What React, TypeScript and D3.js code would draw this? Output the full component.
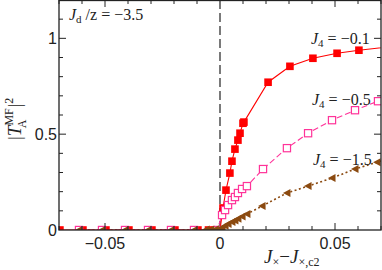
import React, { useEffect, useRef } from "react";
import * as d3 from "d3";

// |T_A^MF|^2 vs J_x - J_x,c2, for three J_4 values
const redX = [-0.0696, -0.0596, -0.0496, -0.0396, -0.0296, -0.0196, -0.0096, -0.005, -0.002, 0, 0.0013, 0.0026, 0.0043, 0.0052, 0.0065, 0.0078, 0.0087, 0.01, 0.0104, 0.0209, 0.0304, 0.0404, 0.0509, 0.0604, 0.0804];
const redY = [0, 0, 0, 0, 0, 0, 0, 0, 0, 0, 0.115, 0.208, 0.297, 0.359, 0.422, 0.469, 0.505, 0.557, 0.563, 0.771, 0.854, 0.896, 0.922, 0.938, 0.965];

const pinkX = [-0.0613, -0.0513, -0.0413, -0.0313, -0.0213, -0.0113, -0.0013, 0.0009, 0.0022, 0.0035, 0.0052, 0.0065, 0.0078, 0.0096, 0.0117, 0.0187, 0.0291, 0.0383, 0.0487, 0.0587, 0.0687, 0.0787];
const pinkY = [0, 0, 0, 0, 0, 0, 0, 0.078, 0.104, 0.13, 0.156, 0.172, 0.193, 0.214, 0.229, 0.318, 0.427, 0.505, 0.573, 0.625, 0.672, 0.71];

const brownX = [-0.0613, -0.0513, -0.0413, -0.0313, -0.0213, -0.0113, -0.006, -0.004, -0.002, 0, 0.0009, 0.0022, 0.0035, 0.0052, 0.0065, 0.0078, 0.0096, 0.0117, 0.0183, 0.0291, 0.0383, 0.0487, 0.0587, 0.0683, 0.0783];
const brownY = [0, 0, 0, 0, 0, 0, 0.002, 0.003, 0.004, 0.006, 0.012, 0.022, 0.031, 0.042, 0.05, 0.059, 0.07, 0.083, 0.125, 0.193, 0.229, 0.271, 0.318, 0.354, 0.39];

const xTicks = [-0.05, 0, 0.05];
const xTickLabels = ["\u22120.05", "0", "0.05"];
const yTicks = [0, 0.5, 1];
const yTickLabels = ["0", "0.5", "1"];

const W = 382;
const H = 270;
const margin = { top: 0, right: 1, bottom: 40, left: 59 };

const RED = "#ff0000";
const PINK = "#ff3399";
const BROWN = "#8b4a10";

export default function App() {
  const ref = useRef<SVGSVGElement>(null);

  useEffect(() => {
    const svg = d3.select(ref.current);
    svg.selectAll("*").remove();

    const x = d3.scaleLinear().domain([-0.07, 0.07]).range([margin.left, W - margin.right]);
    const y = d3.scaleLinear().domain([0, 1.2]).range([H - margin.bottom, margin.top]);
    const [x0, x1] = x.range();
    const [y0, y1] = y.range();

    svg.append("defs").append("clipPath").attr("id", "plotclip")
      .append("rect").attr("x", x0).attr("y", y1).attr("width", x1 - x0).attr("height", y0 - y1);

    // dashed zero line
    svg.append("line")
      .attr("x1", x(0)).attr("x2", x(0)).attr("y1", y1).attr("y2", y0)
      .attr("stroke", "#222").attr("stroke-width", 1.2).attr("stroke-dasharray", "9,4");

    const plot = svg.append("g").attr("clip-path", "url(#plotclip)");
    const line = d3.line<[number, number]>().x((d) => x(d[0])).y((d) => y(d[1]));

    const series = [
      { xs: redX, ys: redY, color: RED, dash: null as string | null, kind: "sq" },
      { xs: pinkX, ys: pinkY, color: PINK, dash: "6,3", kind: "open" },
      { xs: brownX, ys: brownY, color: BROWN, dash: "2,2.5", kind: "tri" },
    ];

    // lines first, brown at the bottom
    [series[2], series[1], series[0]].forEach((s) => {
      const pts = s.xs.map((v, i) => [v, s.ys[i]] as [number, number]);
      plot.append("path")
        .attr("d", line(pts))
        .attr("fill", "none")
        .attr("stroke", s.color)
        .attr("stroke-width", s.kind === "tri" ? 1.6 : 1.1)
        .attr("stroke-dasharray", s.dash);
    });

    series.forEach((s) => {
      s.xs.forEach((v, i) => {
        const cx = x(v);
        const cy = y(s.ys[i]);
        if (s.kind === "sq") {
          plot.append("rect").attr("x", cx - 3.8).attr("y", cy - 3.8).attr("width", 7.6).attr("height", 7.6).attr("fill", RED);
        } else if (s.kind === "open") {
          plot.append("rect").attr("x", cx - 3.6).attr("y", cy - 3.6).attr("width", 7.2).attr("height", 7.2)
            .attr("fill", "white").attr("stroke", PINK).attr("stroke-width", 1.2);
        } else {
          plot.append("path")
            .attr("d", `M${cx - 4},${cy} L${cx + 3.5},${cy - 4} L${cx + 3.5},${cy + 4} Z`)
            .attr("fill", BROWN);
        }
      });
    });

    // frame
    svg.append("rect")
      .attr("x", x0).attr("y", y1 + 0.5).attr("width", x1 - x0).attr("height", y0 - y1 - 0.5)
      .attr("fill", "none").attr("stroke", "#222").attr("stroke-width", 1.3);

    // ticks (inward on all sides)
    const axisColor = "#222";
    const minorX = d3.range(-7, 8).map((k) => k * 0.01);
    minorX.forEach((t) => {
      if (Math.abs(t) < 1e-9) return;
      const major = xTicks.some((m) => Math.abs(m - t) < 1e-9);
      const len = major ? 7 : 4;
      const px = x(t);
      svg.append("line").attr("x1", px).attr("x2", px).attr("y1", y0).attr("y2", y0 - len).attr("stroke", axisColor);
      svg.append("line").attr("x1", px).attr("x2", px).attr("y1", y1).attr("y2", y1 + len).attr("stroke", axisColor);
    });
    const minorY = d3.range(1, 12).map((k) => k * 0.1);
    minorY.forEach((t) => {
      const major = yTicks.some((m) => Math.abs(m - t) < 1e-9);
      const len = major ? 7 : 4;
      const py = y(t);
      svg.append("line").attr("x1", x0).attr("x2", x0 + len).attr("y1", py).attr("y2", py).attr("stroke", axisColor);
      svg.append("line").attr("x1", x1).attr("x2", x1 - len).attr("y1", py).attr("y2", py).attr("stroke", axisColor);
    });

    const sans = "'Liberation Sans', Arial, sans-serif";
    const serif = "'Liberation Serif', 'Times New Roman', serif";

    xTicks.forEach((t, i) => {
      svg.append("text").attr("x", x(t)).attr("y", y0 + 19).attr("text-anchor", "middle")
        .attr("font-family", sans).attr("font-size", 16).attr("fill", "#222").text(xTickLabels[i]);
    });
    yTicks.forEach((t, i) => {
      svg.append("text").attr("x", x0 - 2).attr("y", y(t) + 6).attr("text-anchor", "end")
        .attr("font-family", sans).attr("font-size", 16).attr("fill", "#222").text(yTickLabels[i]);
    });

    // x label
    const xl = svg.append("text").attr("x", 264).attr("y", 263).attr("font-family", serif)
      .attr("font-size", 19).attr("fill", "#222");
    xl.append("tspan").attr("font-style", "italic").text("J");
    xl.append("tspan").attr("font-size", 12).attr("dy", 3).text("\u00d7");
    xl.append("tspan").attr("dy", -3).text("\u2212");
    xl.append("tspan").attr("font-style", "italic").text("J");
    xl.append("tspan").attr("font-size", 12).attr("dy", 3).text("\u00d7,c2");

    // y label: |T^MF_A|^2 with stacked super/subscript
    const yl = svg.append("text").attr("transform", "translate(21,140) rotate(-90)")
      .attr("font-family", serif).attr("font-size", 19).attr("fill", "#222");
    yl.append("tspan").text("|");
    yl.append("tspan").attr("font-style", "italic").text("T");
    yl.append("tspan").attr("font-size", 12).attr("dy", -8).text("MF");
    yl.append("tspan").attr("font-size", 12).attr("dx", -19).attr("dy", 13).text("A");
    yl.append("tspan").attr("dx", 12).attr("dy", -5).text("|");
    yl.append("tspan").attr("font-size", 12).attr("dy", -8).text("2");

    // annotations
    const note = (tx: number, ty: number, sub: string, val: string) => {
      const t = svg.append("text").attr("x", tx).attr("y", ty).attr("font-family", serif)
        .attr("font-size", 16).attr("fill", "#222");
      t.append("tspan").attr("font-style", "italic").text("J");
      t.append("tspan").attr("font-size", 11).attr("dy", 3).text(sub);
      t.append("tspan").attr("dy", -3).text(val);
    };
    note(69, 20, "d", " /z = \u22123.5");
    note(311, 44, "4", " = \u22120.1");
    note(312, 105, "4", " = \u22120.5");
    note(313, 165, "4", " = \u22121.5");
  }, []);

  return (
    <svg ref={ref} width={W} height={H} style={{ position: "absolute", left: 0, top: 0, background: "white" }} />
  );
}
